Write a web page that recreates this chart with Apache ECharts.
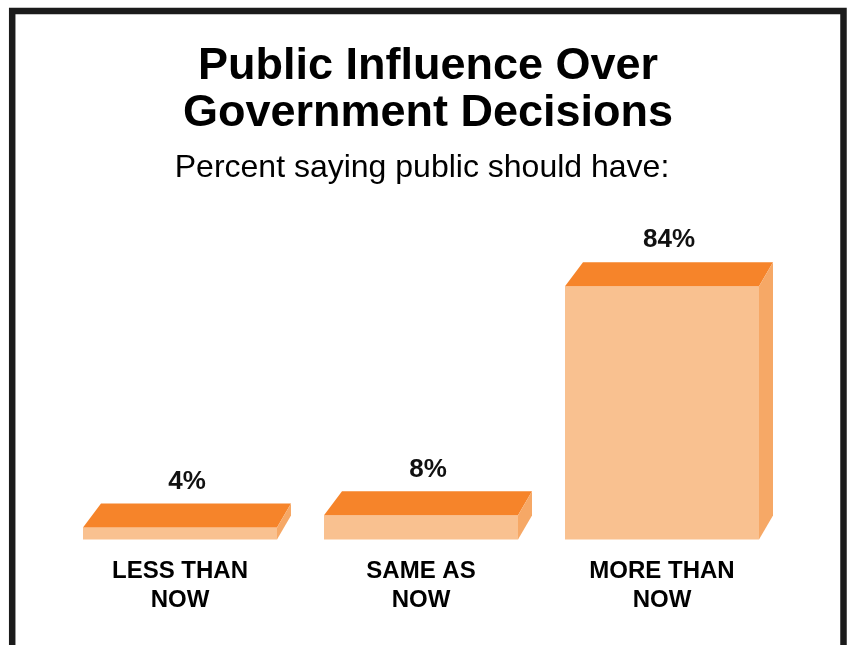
<!DOCTYPE html>
<html>
<head>
<meta charset="utf-8">
<style>
html,body{margin:0;padding:0;background:#fff;}
#chart{width:851px;height:645px;}
</style>
<script src="https://cdn.jsdelivr.net/npm/echarts@6/dist/echarts.min.js"></script>
</head>
<body>
<div id="chart"></div>
<script>
const categories = ['LESS THAN\nNOW', 'SAME AS\nNOW', 'MORE THAN\nNOW'];
const values = [4, 8, 84];
const valueLabels = ['4%', '8%', '84%'];
const titleText = 'Public Influence Over\nGovernment Decisions';
const subtitleText = 'Percent saying public should have:';

const FONT = '"Liberation Sans", Arial, sans-serif';
const chart = echarts.init(document.getElementById('chart'), null, {renderer: 'canvas'});

function renderBar(params, api) {
  const idx = api.value(0);
  const v = api.value(1);
  const topPt = api.coord([idx, v]);
  const basePt = api.coord([idx, 0]);
  const bw = api.size([1, 0])[0] * 0.805;
  const x0 = topPt[0] - bw / 2, x1 = topPt[0] + bw / 2;
  const yT = topPt[1], yB = basePt[1];
  const dxL = 18, dxR = 14, dy = 24;
  return {
    type: 'group',
    children: [
      {type: 'rect', shape: {x: x0, y: yT, width: x1 - x0, height: yB - yT},
       style: {fill: '#F9C190'}},
      {type: 'polygon', shape: {points: [[x0, yT], [x0 + dxL, yT - dy], [x1 + dxR, yT - dy], [x1, yT]]},
       style: {fill: '#F6842A'}},
      {type: 'polygon', shape: {points: [[x1, yT], [x1 + dxR, yT - dy], [x1 + dxR, yB - dy], [x1, yB]]},
       style: {fill: '#F6A866'}},
      {type: 'text', x: topPt[0] + 7, y: yT - dy - 22,
       style: {text: valueLabels[idx], fill: '#111', font: 'bold 26px ' + FONT,
               textAlign: 'center', textVerticalAlign: 'middle'}}
    ]
  };
}

chart.setOption({
  animation: false,
  backgroundColor: '#fff',
  grid: {left: 59.5, right: 68.5, top: 237.9, bottom: 105.5},
  xAxis: {
    type: 'category', data: categories,
    axisLine: {show: false}, axisTick: {show: false}, splitLine: {show: false},
    axisLabel: {margin: 17, fontFamily: FONT, fontWeight: 'bold', fontSize: 24, lineHeight: 29, color: '#000', interval: 0}
  },
  yAxis: {type: 'value', min: 0, max: 100, show: false, splitLine: {show: false}},
  graphic: [
    {type: 'text', x: 428, y: 43, z: 50,
     style: {text: titleText, fill: '#000', font: 'bold 45px ' + FONT, lineHeight: 47,
             textAlign: 'center', textVerticalAlign: 'top'}},
    {type: 'text', x: 422, y: 168, z: 50,
     style: {text: subtitleText, fill: '#000', font: '32px ' + FONT,
             textAlign: 'center', textVerticalAlign: 'middle'}},
    {type: 'rect', shape: {x: 12.2, y: 11, width: 831.3, height: 700},
     style: {fill: 'none', stroke: '#1b1b1b', lineWidth: 6.5}, z: 100}
  ],
  series: [{
    type: 'custom',
    renderItem: renderBar,
    data: values.map((v, i) => [i, v]),
    encode: {x: 0, y: 1}
  }]
});
</script>
</body>
</html>
